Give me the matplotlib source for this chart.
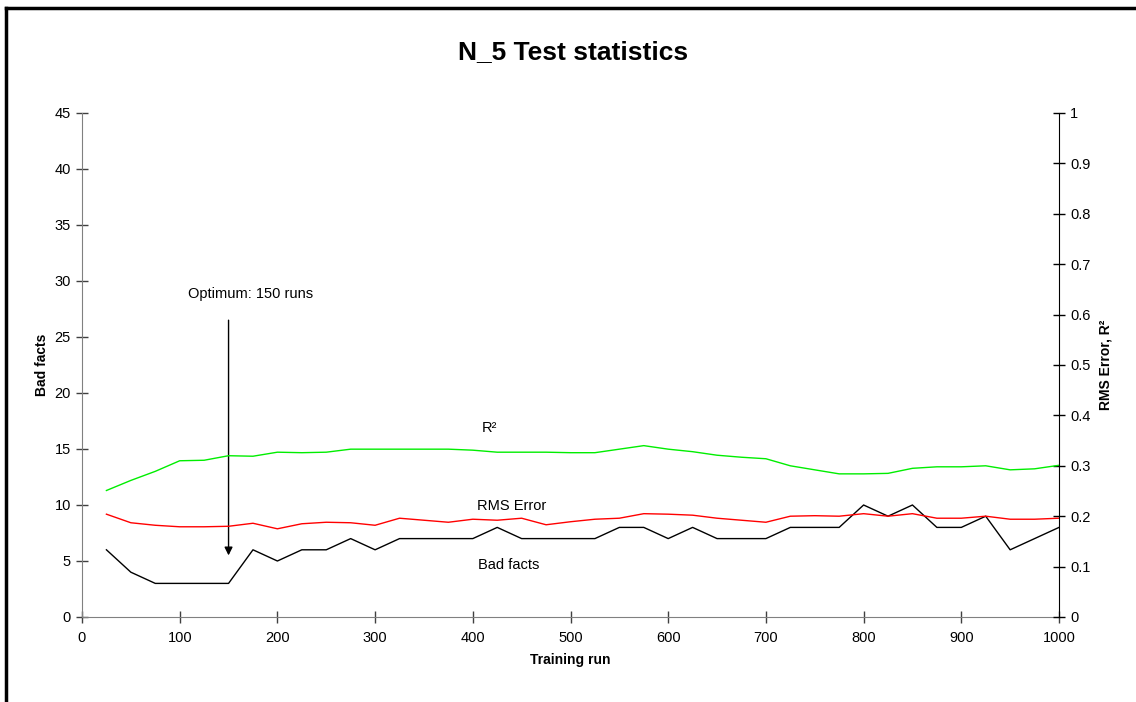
import matplotlib
matplotlib.use("Agg")
import matplotlib.pyplot as plt
from matplotlib.lines import Line2D
from matplotlib.ticker import FixedLocator, FuncFormatter

plt.rcParams['font.family'] = ['Liberation Sans', 'DejaVu Sans']

runs = list(range(25, 1001, 25))
bad_facts = [6, 4, 3, 3, 3, 3, 6, 5, 6, 6,
             7, 6, 7, 7, 7, 7, 8, 7, 7, 7,
             7, 8, 8, 7, 8, 7, 7, 7, 8, 8,
             8, 10, 9, 10, 8, 8, 9, 6, 7, 8]
rms_error = [0.204, 0.187, 0.182, 0.179, 0.179, 0.180, 0.186, 0.175, 0.185, 0.188,
             0.187, 0.182, 0.196, 0.192, 0.188, 0.194, 0.192, 0.196, 0.183, 0.189,
             0.194, 0.196, 0.205, 0.204, 0.202, 0.196, 0.192, 0.188, 0.200, 0.201,
             0.200, 0.205, 0.200, 0.205, 0.196, 0.196, 0.200, 0.194, 0.194, 0.196]
r_squared = [0.251, 0.271, 0.289, 0.310, 0.311, 0.320, 0.319, 0.327, 0.326, 0.327,
             0.333, 0.333, 0.333, 0.333, 0.333, 0.331, 0.327, 0.327, 0.327, 0.326,
             0.326, 0.333, 0.340, 0.333, 0.328, 0.321, 0.317, 0.314, 0.300, 0.292,
             0.284, 0.284, 0.285, 0.295, 0.298, 0.298, 0.300, 0.292, 0.294, 0.301]

left_ticks = list(range(0, 46, 5))
right_ticks = [i / 10 for i in range(0, 11)]
x_ticks = list(range(0, 1001, 100))

fig = plt.figure(figsize=(11.36, 7.02), dpi=100)
ax = fig.add_axes([82/1136, 1 - 617/702, (1059-82)/1136, (617-113)/702])
ax2 = ax.twinx()

ax.plot(runs, bad_facts, color='black', lw=1.0)
ax2.plot(runs, rms_error, color='#ff0000', lw=1.0)
ax2.plot(runs, r_squared, color='#00ee00', lw=1.0)

ax.set_xlim(0, 1000)
ax.set_ylim(0, 45)
ax2.set_ylim(0, 1)

ax.xaxis.set_major_locator(FixedLocator(x_ticks))
ax.yaxis.set_major_locator(FixedLocator(left_ticks))
ax2.yaxis.set_major_locator(FixedLocator(right_ticks))
ax2.yaxis.set_major_formatter(FuncFormatter(lambda v, p: f"{v:g}"))

for a in (ax, ax2):
    a.spines['top'].set_visible(False)
ax.spines['right'].set_visible(False)
ax.spines['left'].set_color('#808080')
ax.spines['bottom'].set_color('#808080')
ax2.spines['left'].set_visible(False)
ax2.spines['bottom'].set_visible(False)
ax2.spines['right'].set_color('black')

ax.tick_params(axis='both', direction='inout', length=8, width=1, labelsize=10.5, pad=4)
ax.tick_params(axis='y', color='#404040')
ax.tick_params(axis='x', color='#404040', pad=6)
ax2.tick_params(axis='y', direction='inout', length=8, width=1, labelsize=10.5, pad=4, color='black')

ax.set_xlabel('Training run', fontsize=10, fontweight='bold', labelpad=6)
ax.set_ylabel('Bad facts', fontsize=10, fontweight='bold', labelpad=4)
ax2.set_ylabel('RMS Error, R²', fontsize=10, fontweight='bold', labelpad=6)

fig.text(573/1136, 1 - 52/702, 'N_5 Test statistics', ha='center', va='center',
         fontsize=19, fontweight='bold')

ax.annotate('', xy=(150, 5.5), xytext=(150, 26.5),
            arrowprops=dict(arrowstyle='-|>', color='black', lw=1.0,
                            mutation_scale=12, shrinkA=0, shrinkB=0))
ax.text(173, 28.8, 'Optimum: 150 runs', ha='center', va='center', fontsize=10.5)
ax.text(417, 16.9, 'R²', ha='center', va='center', fontsize=10.5)
ax.text(440, 9.9, 'RMS Error', ha='center', va='center', fontsize=10.5)
ax.text(437, 4.6, 'Bad facts', ha='center', va='center', fontsize=10.5)

# outer chart frame (left and top edges visible)
fig.add_artist(Line2D([6/1136, 6/1136], [0, 1 - 8/702], transform=fig.transFigure,
                      color='black', lw=2.5))
fig.add_artist(Line2D([6/1136, 1], [1 - 8/702, 1 - 8/702], transform=fig.transFigure,
                      color='black', lw=2.5))

fig.savefig('out.png', dpi=100)
